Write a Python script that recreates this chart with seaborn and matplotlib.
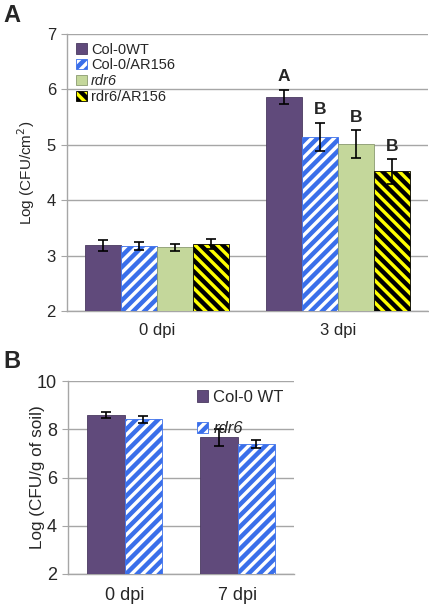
import pandas as pd
import numpy as np
import seaborn as sns
import matplotlib.pyplot as plt

# panel A data
times_a = ["0 dpi", "3 dpi"]
genos_a = ["Col-0WT", "Col-0/AR156", "rdr6", "rdr6/AR156"]
col0_wt_a = [3.19, 5.86]
col0_ar_a = [3.17, 5.14]
rdr6_a = [3.15, 5.01]
rdr6_ar_a = [3.21, 4.52]
col0_wt_a_err = [0.10, 0.13]
col0_ar_a_err = [0.07, 0.26]
rdr6_a_err = [0.06, 0.25]
rdr6_ar_a_err = [0.09, 0.22]
letters_a = ["A", "B", "B", "B"]  # above 3 dpi bars

# panel B data
times_b = ["0 dpi", "7 dpi"]
genos_b = ["Col-0 WT", "rdr6"]
col0_wt_b = [8.59, 7.67]
rdr6_b = [8.41, 7.38]
col0_wt_b_err = [0.12, 0.35]
rdr6_b_err = [0.15, 0.17]

sns.set_style("white")
plt.rcParams['font.family'] = ['Liberation Sans', 'DejaVu Sans']
plt.rcParams['hatch.linewidth'] = 3.2

purple = "#604A7B"
blue = "#3A6FEA"
green = "#C4D79B"
yellow = "#FFFF00"

# (face, edge, hatch)
styles_a = [(purple, "#4A3A60", ""), ("white", blue, "///"),
            (green, "#8A9A70", ""), (yellow, "black", "\\\\\\")]
styles_b = [(purple, "#4A3A60", ""), ("white", blue, "///")]

df_a = pd.DataFrame({
    "time": times_a * 4,
    "geno": np.repeat(genos_a, 2),
    "val": col0_wt_a + col0_ar_a + rdr6_a + rdr6_ar_a,
})
errs_a = [col0_wt_a_err, col0_ar_a_err, rdr6_a_err, rdr6_ar_a_err]

df_b = pd.DataFrame({
    "time": times_b * 2,
    "geno": np.repeat(genos_b, 2),
    "val": col0_wt_b + rdr6_b,
})
errs_b = [col0_wt_b_err, rdr6_b_err]

fig = plt.figure(figsize=(4.29, 6.05), dpi=100)
ax1 = fig.add_axes([67/429, 1-311/605, 361/429, 277/605])
ax2 = fig.add_axes([68/429, 1-574/605, 226/429, 193/605])


def style_panel(ax, df, genos, styles, errs, width, ylim, yticks, fs):
    sns.barplot(data=df, x="time", y="val", hue="geno", hue_order=genos,
                errorbar=None, width=width, legend=False, ax=ax, zorder=3)
    for cont, (fc, ec, h), err in zip(ax.containers, styles, errs):
        for bar, e in zip(cont.patches, err):
            bar.set_facecolor(fc)
            bar.set_edgecolor(ec)
            bar.set_hatch(h)
            bar.set_linewidth(0.6)
            x = bar.get_x() + bar.get_width() / 2
            ax.errorbar(x, bar.get_height(), yerr=e, color="black", lw=1.2,
                        capsize=3.5, capthick=1.2, zorder=5)
    ax.set_ylim(*ylim)
    ax.set_yticks(yticks)
    ax.yaxis.grid(True, color="#A6A6A6", lw=1, zorder=0)
    ax.set_axisbelow(True)
    for s in ["top", "right"]:
        ax.spines[s].set_visible(False)
    for s in ["left", "bottom"]:
        ax.spines[s].set_color("#A6A6A6")
        ax.spines[s].set_linewidth(1)
    n = len(df["time"].unique())
    ax.set_xlim(-0.5, n - 0.5)
    ax.set_xticks(np.arange(-0.5, n), minor=True)
    ax.tick_params(axis="x", which="major", length=0, pad=9, labelsize=fs)
    ax.tick_params(axis="x", which="minor", length=5, color="#A6A6A6", direction="out")
    ax.tick_params(axis="y", length=4, color="#A6A6A6", direction="out", left=True,
                   labelsize=fs, pad=4)
    ax.set_xlabel("")


style_panel(ax1, df_a, genos_a, styles_a, errs_a, 0.8, (2, 7), range(2, 8), 12)
style_panel(ax2, df_b, genos_b, styles_b, errs_b, 0.67, (2, 10), range(2, 11, 2), 13)

ax1.set_ylabel("Log (CFU/cm$^2$)", fontsize=11)
ax1.yaxis.set_label_coords(-0.083, 0.5)
ax2.set_ylabel("Log (CFU/g of soil)", fontsize=12.3)
ax2.yaxis.set_label_coords(-0.10, 0.5)

# significance letters above 3 dpi bars
for idx, (cont, let) in enumerate(zip(ax1.containers, letters_a)):
    bar = cont.patches[1]
    x = bar.get_x() + bar.get_width() / 2
    top = bar.get_height() + errs_a[idx][1]
    ax1.annotate(let, (x, top), xytext=(0, 4), textcoords="offset points",
                 ha="center", va="bottom", fontsize=12.5, fontweight="bold")

leg1 = ax1.legend(ax1.containers, genos_a, loc="upper left", bbox_to_anchor=(0.01, 0.99),
                  frameon=False, handlelength=0.7, handleheight=0.7, handletextpad=0.3,
                  labelspacing=0.12, borderaxespad=0, prop={"size": 10.5})
leg1.get_texts()[2].set_fontstyle("italic")

leg2 = ax2.legend(ax2.containers, genos_b, loc="upper left", bbox_to_anchor=(0.54, 0.99),
                  frameon=False, handlelength=0.7, handleheight=0.7, handletextpad=0.3,
                  labelspacing=1.0, borderaxespad=0, prop={"size": 12})
leg2.get_texts()[1].set_fontstyle("italic")

fig.text(3/429, 1-15/605, "A", fontsize=17, fontweight="bold", va="center")
fig.text(3/429, 1-361/605, "B", fontsize=17, fontweight="bold", va="center")

fig.savefig("out.png", dpi=100)
